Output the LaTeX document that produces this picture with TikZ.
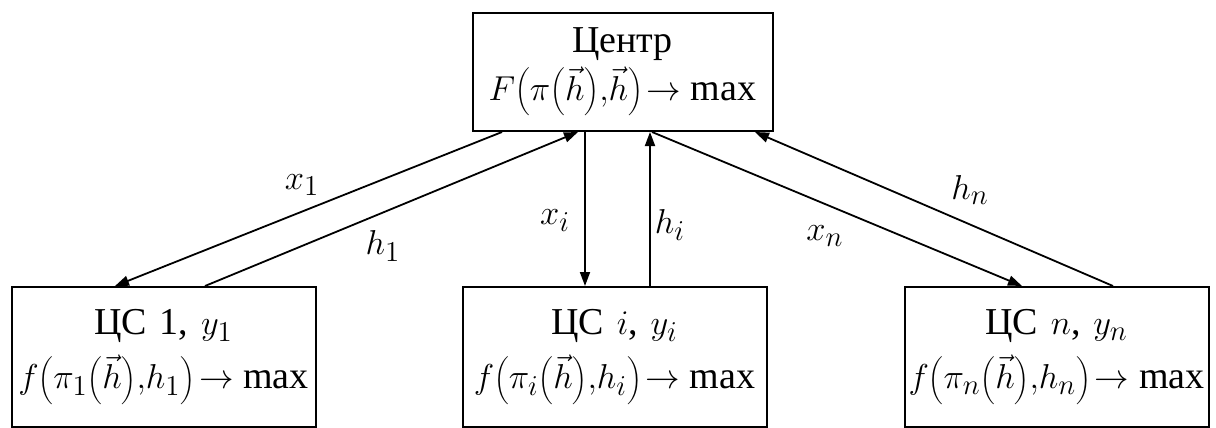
\documentclass[tikz,border=0pt]{standalone}
\usepackage{fontspec}
\setmainfont{Liberation Serif}
\usetikzlibrary{arrows.meta,positioning}
\tikzset{
  csbox/.style={draw, line width=1pt, align=center, inner sep=0pt, text width=152pt, font=\fontsize{19}{27}\selectfont},
  csarrow/.style={-{Triangle[length=7pt,width=5pt]}, line width=0.9pt},
  cslabel/.style={font=\fontsize{19}{23}\selectfont}
}
\newcommand{\fmax}[3]{\mbox{$#1\biggl(#2\biggl(\vec{h}\biggr),\!#3\biggr)\mkern-3mu\to\max$}}

\begin{document}
\begin{tikzpicture}[x=0.5pt,y=-0.5pt]
\useasboundingbox (0,0) rectangle (1216,428);

\node[csbox, text width=150pt, minimum height=59pt] (center) at (622.5,72) {Центр\\[-3pt]
\fmax{F}{\pi}{\vec{h}}};

\node[csbox, minimum height=70pt] (cs1) at (163.5,357) {ЦС 1,~$y_1$\\
\fmax{f}{\pi_1}{h_1}};
\node[csbox, minimum height=70pt] (csi) at (614.5,357) {ЦС $i$,~$y_i$\\
\fmax{f}{\pi_i}{h_i}};
\node[csbox, minimum height=70pt] (csn) at (1056.5,357) {ЦС $n$,~$y_n$\\
\fmax{f}{\pi_n}{h_n}};

% plans down, estimates up
\draw[csarrow] ([xshift=-60.25pt]center.south) -- ([xshift=-24.25pt]cs1.north);
\draw[csarrow] ([xshift=20.75pt]cs1.north) -- ([xshift=-22.25pt]center.south);
\draw[csarrow] ([xshift=-18.75pt]center.south) -- ([xshift=-14.75pt]csi.north);
\draw[csarrow] ([xshift=17.75pt]csi.north) -- ([xshift=13.75pt]center.south);
\draw[csarrow] ([xshift=14.75pt]center.south) -- ([xshift=-17.25pt]csn.north);
\draw[csarrow] ([xshift=28.25pt]csn.north) -- ([xshift=66.25pt]center.south);

\node[cslabel] (lx1) at (302,185) {$x_1$};
\node[cslabel] (lh1) at (383,246) {$h_1$};
\node[cslabel] (lxi) at (555,221) {$x_i$};
\node[cslabel] (lhi) at (670,225) {$h_i$};
\node[cslabel] (lxn) at (825,236) {$x_n$};
\node[cslabel] (lhn) at (970,190) {$h_n$};
\end{tikzpicture}
\end{document}
